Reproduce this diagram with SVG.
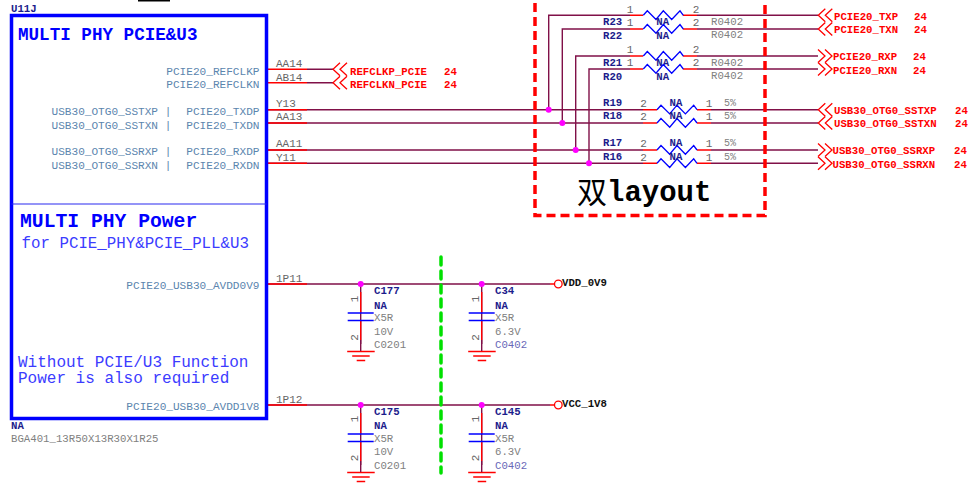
<svg xmlns="http://www.w3.org/2000/svg" width="977" height="493" viewBox="0 0 977 493">
<style>
text{font-family:"Liberation Mono","DejaVu Sans Mono",monospace;font-size:11px;fill:#707070}
.pin{fill:#5b85ae;font-size:11.1px}
.end{text-anchor:end}
.mid{text-anchor:middle}
.num{fill:#666;font-size:11px}
.ref{fill:#1c1c8c;font-weight:bold;font-size:10.7px}
.val{fill:#808080;font-size:10.7px}
.net{fill:#f00;font-weight:bold;font-size:10.7px}
.pwr{fill:#111;font-weight:bold;font-size:10.7px}
.note{fill:#3c3cff;font-size:16px}
.title{fill:#00f;font-weight:bold}
.wire{fill:none;stroke:#801048;stroke-width:1.4}
.stub{fill:none;stroke:#f00;stroke-width:1.4}
.blue{fill:none;stroke:#00f;stroke-width:1.3}
.red{fill:none;stroke:#f00;stroke-width:1.3}
.dot{fill:#f0f}
</style>
<defs>
<path id="zig" class="blue" d="M0,0L4,-4.5L12.7,4.2L20,-4.5L28.4,4.2L36.7,-4.5L40,0"/>
<path id="chevL" class="red" d="M14,-6.5L7,0L14,6.5M7,-6.5L0,0L7,6.5"/>
<path id="chevR" class="red" d="M0,-6.5L7,0L0,6.5M7,-6.5L14,0L7,6.5"/>
<g id="cap">
<path class="wire" d="M0,0V60"/>
<path class="stub" d="M0,8V29M0,37V56"/>
<path class="blue" d="M-13,29H13M-13,36.500H13" style="stroke-width:1.5"/>
<path class="red" d="M-13.500,67.500H14M-8.500,72H9M-4,76.500H4.500"/>
<path class="wire" d="M0,56V67"/>
</g>
</defs>
<rect x="138" y="0" width="32" height="1.500" fill="#000"/>

<g id="connectors">
<path class="wire" d="M307,69.300H333M307,82.700H333"/>
<path class="wire" d="M267,109.700H643M711,109.700H818M267,123H643M711,123H818M267,150H643M711,150H818M267,163.300H643M711,163.300H818"/>
<path class="wire" d="M548.700,109.700V15.300H630M697,15.300H818M562.300,123V29H630M697,29H818M575.700,150V56H630M697,56H818M589,163.300V69H630M697,69H818"/>
<path class="wire" d="M267,284H550M267,405H550"/>
<path class="stub" d="M267,69.300H307M267,82.700H307M267,109.700H307M267,123H307M267,150H307M267,163.300H307M267,284H307M267,405H307M550,284H554M550,405H554"/>
<circle class="dot" cx="548.700" cy="109.700" r="3"/>
<circle class="dot" cx="562.300" cy="123" r="3"/>
<circle class="dot" cx="575.700" cy="150" r="3"/>
<circle class="dot" cx="589" cy="163.300" r="3"/>
</g>

<g id="U11J">
<rect x="11.500" y="15.500" width="255" height="403" fill="none" stroke="#00f" stroke-width="3.500"/>
<path d="M11.500,204H266.500" stroke="#2a2af0" stroke-width="1.200"/>
<text x="11" y="12" class="ref">U11J</text>
<text x="18" y="39.500" class="title" style="font-size:17.600px">MULTI PHY PCIE&amp;U3</text>
<text x="20" y="226.500" class="title" style="font-size:19.700px">MULTI PHY Power</text>
<text x="21.500" y="247.500" class="note" style="font-size:15.800px">for PCIE_PHY&amp;PCIE_PLL&amp;U3</text>
<text x="18" y="367" class="note">Without PCIE/U3 Function</text>
<text x="18" y="383" class="note">Power is also required</text>
<text x="259.500" y="74.500" class="pin end">PCIE20_REFCLKP</text>
<text x="259.500" y="88" class="pin end">PCIE20_REFCLKN</text>
<text x="51.500" y="115" class="pin">USB30_OTG0_SSTXP</text><text x="168" y="115" class="pin mid">|</text><text x="259.500" y="115" class="pin end">PCIE20_TXDP</text>
<text x="51.500" y="128.500" class="pin">USB30_OTG0_SSTXN</text><text x="168" y="128.500" class="pin mid">|</text><text x="259.500" y="128.500" class="pin end">PCIE20_TXDN</text>
<text x="51.500" y="155" class="pin">USB30_OTG0_SSRXP</text><text x="168" y="155" class="pin mid">|</text><text x="259.500" y="155" class="pin end">PCIE20_RXDP</text>
<text x="51.500" y="168.500" class="pin">USB30_OTG0_SSRXN</text><text x="168" y="168.500" class="pin mid">|</text><text x="259.500" y="168.500" class="pin end">PCIE20_RXDN</text>
<text x="259.500" y="288.500" class="pin end">PCIE20_USB30_AVDD0V9</text>
<text x="259.500" y="410" class="pin end">PCIE20_USB30_AVDD1V8</text>
<text x="276" y="67" class="num">AA14</text>
<text x="276" y="80.500" class="num">AB14</text>
<text x="276" y="107" class="num">Y13</text>
<text x="276" y="120" class="num">AA13</text>
<text x="276" y="147" class="num">AA11</text>
<text x="276" y="161" class="num">Y11</text>
<text x="276" y="282" class="num">1P11</text>
<text x="276" y="403" class="num">1P12</text>
<text x="11" y="428.500" class="ref">NA</text>
<text x="11" y="441.500" class="val">BGA401_13R50X13R30X1R25</text>
</g>

<g id="layout-box">
<path d="M535,3V215.500H765V3" fill="none" stroke="#f00" stroke-width="3.500" stroke-dasharray="9 5"/>
<text x="577" y="203" style="font-family:'Noto Sans CJK SC','Liberation Mono',sans-serif;font-size:30px;fill:#000">双</text>
<text x="607" y="200.500" style="font-size:29px;font-weight:bold;fill:#000">layout</text>
</g>

<path id="divider" d="M441,257V473" fill="none" stroke="#00e000" stroke-width="3.500" stroke-dasharray="8 6" stroke-linecap="round"/>

<g id="R23"><path class="stub" d="M630,15.300H643M683,15.300H697"/><use href="#zig" x="643.300" y="15.300"/>
<text x="603" y="25" class="ref">R23</text><text x="630" y="13" class="num mid">1</text><text x="696" y="13" class="num mid">2</text><text x="662.700" y="25" class="ref mid">NA</text><text x="711" y="25" class="val">R0402</text></g>
<g id="R22"><path class="stub" d="M630,29H643M683,29H697"/><use href="#zig" x="643.300" y="29"/>
<text x="603" y="39" class="ref">R22</text><text x="630" y="26" class="num mid">1</text><text x="696" y="26" class="num mid">2</text><text x="662.700" y="39" class="ref mid">NA</text><text x="711" y="38" class="val">R0402</text></g>
<g id="R21"><path class="stub" d="M630,56H643M683,56H697"/><use href="#zig" x="643.300" y="56"/>
<text x="603" y="66" class="ref">R21</text><text x="630" y="53" class="num mid">1</text><text x="696" y="53" class="num mid">2</text><text x="662.700" y="66" class="ref mid">NA</text><text x="711" y="65.500" class="val">R0402</text></g>
<g id="R20"><path class="stub" d="M630,69H643M683,69H697"/><use href="#zig" x="643.300" y="69"/>
<text x="603" y="79.500" class="ref">R20</text><text x="630" y="66" class="num mid">1</text><text x="696" y="66" class="num mid">2</text><text x="662.700" y="79.500" class="ref mid">NA</text><text x="711" y="79" class="val">R0402</text></g>
<g id="R19"><path class="stub" d="M643,109.700H657M697,109.700H711"/><use href="#zig" x="657" y="109.700"/>
<text x="603" y="106" class="ref">R19</text><text x="643.500" y="107" class="num mid">2</text><text x="709" y="107" class="num mid">1</text><text x="676" y="106" class="ref mid">NA</text><text x="724" y="106" class="val" style="font-size:10px">5%</text></g>
<g id="R18"><path class="stub" d="M643,123H657M697,123H711"/><use href="#zig" x="657" y="123"/>
<text x="603" y="119" class="ref">R18</text><text x="643.500" y="120" class="num mid">2</text><text x="709" y="120" class="num mid">1</text><text x="676" y="119" class="ref mid">NA</text><text x="724" y="119" class="val" style="font-size:10px">5%</text></g>
<g id="R17"><path class="stub" d="M643,150H657M697,150H711"/><use href="#zig" x="657" y="150"/>
<text x="603" y="146" class="ref">R17</text><text x="643.500" y="147" class="num mid">2</text><text x="709" y="147" class="num mid">1</text><text x="676" y="146" class="ref mid">NA</text><text x="724" y="146" class="val" style="font-size:10px">5%</text></g>
<g id="R16"><path class="stub" d="M643,163.300H657M697,163.300H711"/><use href="#zig" x="657" y="163.300"/>
<text x="603" y="160" class="ref">R16</text><text x="643.500" y="161" class="num mid">2</text><text x="709" y="161" class="num mid">1</text><text x="676" y="160" class="ref mid">NA</text><text x="724" y="160" class="val" style="font-size:10px">5%</text></g>

<g id="port-REFCLKP"><use href="#chevL" x="333" y="69.300"/><text x="350" y="74.500" class="net">REFCLKP_PCIE</text><text x="444" y="74.500" class="net">24</text></g>
<g id="port-REFCLKN"><use href="#chevL" x="333" y="82.700"/><text x="350" y="87.500" class="net">REFCLKN_PCIE</text><text x="444" y="87.500" class="net">24</text></g>
<g id="port-TXP"><use href="#chevL" x="818.300" y="15.300"/><text x="834" y="20" class="net">PCIE20_TXP</text><text x="914" y="20" class="net">24</text></g>
<g id="port-TXN"><use href="#chevL" x="818.300" y="29"/><text x="834" y="33" class="net">PCIE20_TXN</text><text x="914" y="33" class="net">24</text></g>
<g id="port-RXP"><use href="#chevR" x="818" y="56"/><text x="833" y="60" class="net">PCIE20_RXP</text><text x="913" y="60" class="net">24</text></g>
<g id="port-RXN"><use href="#chevR" x="818" y="69"/><text x="833" y="74" class="net">PCIE20_RXN</text><text x="913" y="74" class="net">24</text></g>
<g id="port-SSTXP"><use href="#chevL" x="818.300" y="109.700"/><text x="834" y="114" class="net">USB30_OTG0_SSTXP</text><text x="955" y="114" class="net">24</text></g>
<g id="port-SSTXN"><use href="#chevL" x="818.300" y="123"/><text x="834" y="127" class="net">USB30_OTG0_SSTXN</text><text x="955" y="127" class="net">24</text></g>
<g id="port-SSRXP"><use href="#chevR" x="818" y="150"/><text x="832.500" y="154" class="net">USB30_OTG0_SSRXP</text><text x="954" y="154" class="net">24</text></g>
<g id="port-SSRXN"><use href="#chevR" x="818" y="163.300"/><text x="832.500" y="168" class="net">USB30_OTG0_SSRXN</text><text x="954" y="168" class="net">24</text></g>

<g id="C177"><use href="#cap" x="360.700" y="284"/><circle class="dot" cx="360.700" cy="284" r="3"/>
<text x="374" y="294" class="ref">C177</text><text x="374" y="308.500" class="ref">NA</text><text x="374" y="321" class="val">X5R</text><text x="374" y="334.500" class="val">10V</text><text x="374" y="348" class="val">C0201</text>
<text transform="translate(357.500,299) rotate(-90)" class="num mid">1</text><text transform="translate(357.500,337.500) rotate(-90)" class="num mid">2</text></g>
<g id="C34"><use href="#cap" x="481.700" y="284"/><circle class="dot" cx="481.700" cy="284" r="3"/>
<text x="495" y="294" class="ref">C34</text><text x="495" y="308.500" class="ref">NA</text><text x="495" y="321" class="val">X5R</text><text x="495" y="334.500" class="val">6.3V</text><text x="495" y="348" class="val" style="fill:#6868b8">C0402</text>
<text transform="translate(478.500,299) rotate(-90)" class="num mid">1</text><text transform="translate(478.500,337.500) rotate(-90)" class="num mid">2</text></g>
<g id="C175"><use href="#cap" x="360.700" y="405"/><circle class="dot" cx="360.700" cy="405" r="3"/>
<text x="374" y="415" class="ref">C175</text><text x="374" y="429" class="ref">NA</text><text x="374" y="442" class="val">X5R</text><text x="374" y="455" class="val">10V</text><text x="374" y="468.500" class="val">C0201</text>
<text transform="translate(357.500,419) rotate(-90)" class="num mid">1</text><text transform="translate(357.500,458) rotate(-90)" class="num mid">2</text></g>
<g id="C145"><use href="#cap" x="481.700" y="405"/><circle class="dot" cx="481.700" cy="405" r="3"/>
<text x="495" y="415" class="ref">C145</text><text x="495" y="429" class="ref">NA</text><text x="495" y="442" class="val">X5R</text><text x="495" y="455" class="val">6.3V</text><text x="495" y="468.500" class="val" style="fill:#6868b8">C0402</text>
<text transform="translate(478.500,419) rotate(-90)" class="num mid">1</text><text transform="translate(478.500,458) rotate(-90)" class="num mid">2</text></g>

<g id="VDD_0V9"><circle cx="558.300" cy="284" r="3.800" fill="#fff" stroke="#f00" stroke-width="1.300"/><text x="562" y="286" class="pwr">VDD_0V9</text></g>
<g id="VCC_1V8"><circle cx="558.300" cy="405" r="3.800" fill="#fff" stroke="#f00" stroke-width="1.300"/><text x="562" y="407" class="pwr">VCC_1V8</text></g>
</svg>
